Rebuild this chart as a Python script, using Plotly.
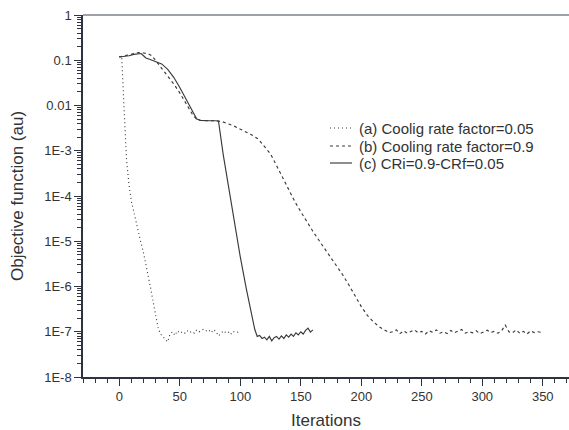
import plotly.graph_objects as go

# Series (a) dotted: Cooling rate factor = 0.05
iter_a = [0, 2, 4, 6, 8, 10, 12, 14, 16, 18, 20, 22, 24, 26, 28, 30, 32, 34, 36, 38, 40,
          42, 44, 46, 48, 50, 52, 54, 56, 58, 60, 62, 64, 66, 68, 70, 72, 74, 76, 78, 80,
          82, 84, 86, 88, 90, 92, 94, 96, 98, 100]
val_a = [1.2e-1, 1.2e-1, 7.9e-3, 6.3e-4, 1.8e-4, 7.6e-5, 4.5e-5, 2.5e-5, 1.5e-5, 8.9e-6, 5.6e-6,
         3.2e-6, 1.7e-6, 8.9e-7, 4.5e-7, 2.4e-7, 1.26e-7, 8.9e-8, 7.9e-8, 7.1e-8, 6.0e-8,
         8.9e-8, 1.0e-7, 8.3e-8, 1.05e-7, 9.3e-8, 1.0e-7, 9.3e-8, 1.07e-7, 9.5e-8, 1.02e-7,
         9.3e-8, 1.1e-7, 1.0e-7, 1.07e-7, 1.15e-7, 1.05e-7, 1.1e-7, 9.5e-8, 1.12e-7, 1.0e-7,
         8.1e-8, 9.1e-8, 1.05e-7, 9.5e-8, 1.0e-7, 8.7e-8, 1.02e-7, 9.6e-8, 9.8e-8, 1.05e-7]

# Series (b) dashed: Cooling rate factor = 0.9
iter_b = [0, 4, 8, 12, 16, 20, 24, 27, 30, 35, 40, 45, 50, 55, 58, 61, 64, 67, 70, 75, 80, 85,
          90, 95, 100, 105, 110, 115, 120, 125, 130, 135, 140, 145, 150, 155, 160, 165, 170,
          175, 180, 185, 190, 195, 200, 205, 210, 215, 220, 223, 226, 229, 232, 235, 238, 241,
          244, 247, 250, 253, 256, 259, 262, 265, 268, 271, 274, 277, 280, 283, 286, 289, 292,
          295, 298, 301, 304, 307, 310, 313, 316, 319, 322, 325, 328, 331, 334, 337, 340, 343,
          346, 350]
val_b = [1.18e-1, 1.26e-1, 1.32e-1, 1.41e-1, 1.48e-1, 1.45e-1, 1.38e-1, 1.26e-1, 1.0e-1,
         6.8e-2, 4.6e-2, 3.0e-2, 1.9e-2, 1.12e-2, 7.9e-3, 6.0e-3, 5.0e-3, 4.7e-3, 4.6e-3,
         4.6e-3, 4.6e-3, 4.4e-3, 4.0e-3, 3.5e-3, 3.0e-3, 2.6e-3, 2.2e-3, 1.8e-3, 1.26e-3,
         8.5e-4, 4.7e-4, 2.5e-4, 1.35e-4, 7.6e-5, 4.5e-5, 2.7e-5, 1.66e-5, 1.05e-5, 6.8e-6,
         4.4e-6, 2.8e-6, 1.75e-6, 1.05e-6, 6.0e-7, 3.6e-7, 2.3e-7, 1.66e-7, 1.28e-7, 1.05e-7,
         9.5e-8, 1.0e-7, 1.1e-7, 9.1e-8, 1.05e-7, 9.3e-8, 1.0e-7, 1.1e-7, 9.5e-8, 1.02e-7,
         8.9e-8, 1.05e-7, 9.7e-8, 1.1e-7, 9.3e-8, 1.0e-7, 9.1e-8, 1.07e-7, 9.5e-8, 1.02e-7,
         1.12e-7, 9.3e-8, 1.0e-7, 9.5e-8, 1.05e-7, 9.1e-8, 1.0e-7, 1.08e-7, 9.6e-8, 1.02e-7,
         9.3e-8, 1.05e-7, 1.4e-7, 1.0e-7, 9.5e-8, 1.1e-7, 9.3e-8, 1.02e-7, 8.9e-8, 1.05e-7,
         9.6e-8, 1.0e-7, 9.5e-8]

# Series (c) solid: CRi = 0.9 - CRf = 0.05
iter_c = [0, 4, 8, 12, 16, 18, 20, 22, 25, 30, 35, 40, 45, 50, 55, 58, 61, 64, 67, 70, 75, 80,
          82, 86, 90, 95, 100, 105, 109, 112, 114, 116, 118, 120, 122, 124, 126, 128, 130, 132,
          134, 136, 138, 140, 142, 144, 146, 148, 150, 152, 154, 156, 158, 160]
val_c = [1.18e-1, 1.2e-1, 1.26e-1, 1.35e-1, 1.41e-1, 1.41e-1, 1.26e-1, 1.12e-1, 1.05e-1,
         9.5e-2, 8.3e-2, 6.3e-2, 4.2e-2, 2.5e-2, 1.41e-2, 9.5e-3, 6.6e-3, 5.0e-3, 4.7e-3,
         4.6e-3, 4.6e-3, 4.6e-3, 4.5e-3, 7.9e-4, 1.78e-4, 2.5e-5, 4.5e-6, 8.9e-7, 2.5e-7,
         1.12e-7, 7.9e-8, 8.3e-8, 7.1e-8, 7.6e-8, 6.6e-8, 7.9e-8, 6.3e-8, 7.4e-8, 7.9e-8,
         6.9e-8, 8.1e-8, 7.1e-8, 8.5e-8, 7.6e-8, 8.9e-8, 7.9e-8, 9.5e-8, 8.5e-8, 1.0e-7,
         8.9e-8, 1.07e-7, 1.2e-7, 9.8e-8, 1.1e-7]

names = ["(a) Coolig rate factor=0.05", "(b) Cooling rate factor=0.9", "(c) CRi=0.9-CRf=0.05"]
dashes = ["1px,3px", "3px,3px", "solid"]

x_tickvals = [0, 50, 100, 150, 200, 250, 300, 350]
y_tickvals = [1, 1e-1, 1e-2, 1e-3, 1e-4, 1e-5, 1e-6, 1e-7, 1e-8]
y_ticktext = ["1", "0.1", "0.01", "1E-3", "1E-4", "1E-5", "1E-6", "1E-7", "1E-8"]

line_col = "#3a3a3a"
axis_col = "#2e3340"
text_col = "#333333"
font_fam = "Liberation Sans, Arial, sans-serif"

W, H = 569, 430
L, R, T, B = 83, 0, 15, 53
PW, PH = W - L - R, H - T - B


def px_x(p):
    return (p - L) / PW


def px_y(p):
    return 1 - (p - T) / PH


fig = go.Figure()
series = [(iter_a, val_a), (iter_b, val_b), (iter_c, val_c)]
for (xs, ys), nm, ds in zip(series, names, dashes):
    fig.add_trace(go.Scatter(x=xs, y=ys, mode="lines", name=nm, showlegend=False,
                             line=dict(color=line_col, width=1.15, dash=ds)))

minor_y = [m * 10.0 ** e for e in range(-8, 0) for m in range(2, 10)]

shapes = [dict(type="line", xref="paper", yref="paper", x0=0, x1=1, y0=1, y1=1,
               line=dict(color="#7d838c", width=1.5))]
annotations = []
legend_rows = [128, 146, 163]
for nm, ds, ry in zip(names, dashes, legend_rows):
    shapes.append(dict(type="line", xref="paper", yref="paper",
                       x0=px_x(330), x1=px_x(352), y0=px_y(ry), y1=px_y(ry),
                       line=dict(color=line_col, width=1.15, dash=ds)))
    annotations.append(dict(text=nm, xref="paper", yref="paper", x=px_x(357), y=px_y(ry),
                            xanchor="left", yanchor="middle", showarrow=False,
                            font=dict(size=15, color=text_col, family=font_fam)))

fig.update_layout(
    width=W, height=H,
    margin=dict(l=L, r=R, t=T, b=B, pad=0),
    paper_bgcolor="white", plot_bgcolor="white",
    font=dict(family=font_fam, color=text_col),
    showlegend=False,
    xaxis=dict(range=[-30, 371.7], tickmode="array", tickvals=x_tickvals,
               ticks="outside", ticklen=7, tickwidth=1.3, tickcolor=axis_col,
               showline=True, linecolor=axis_col, linewidth=1.5, mirror=False,
               showgrid=False, zeroline=False,
               tickfont=dict(size=13, color=text_col),
               minor=dict(ticks="outside", ticklen=4, tickwidth=1.2, tickcolor=axis_col,
                          dtick=10, tick0=0, showgrid=False),
               title=dict(text="Iterations", font=dict(size=17, color=text_col), standoff=13)),
    yaxis=dict(type="log", range=[-8, 0], tickmode="array", tickvals=y_tickvals,
               ticktext=y_ticktext, ticks="outside", ticklen=7, tickwidth=1.3,
               tickcolor=axis_col, showline=True, linecolor=axis_col, linewidth=1.5,
               showgrid=False, zeroline=False,
               tickfont=dict(size=13, color=text_col),
               minor=dict(ticks="outside", ticklen=4, tickwidth=1.2, tickcolor=axis_col,
                          tickvals=minor_y, showgrid=False),
               title=dict(text="Objective function (au)", font=dict(size=17, color=text_col),
                          standoff=16)),
    shapes=shapes,
    annotations=annotations,
)

fig.write_html("out.html")
